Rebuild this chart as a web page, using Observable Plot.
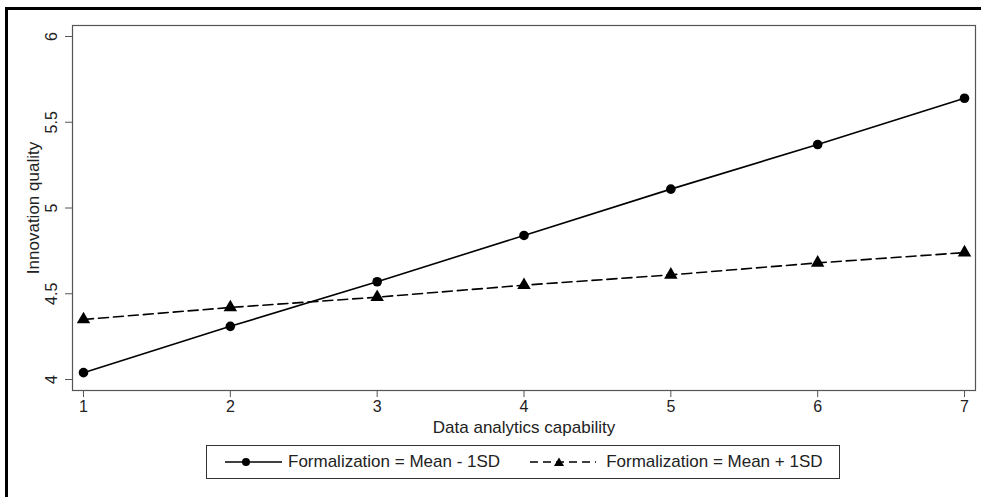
<!DOCTYPE html>
<html>
<head>
<meta charset="utf-8">
<script src="https://cdn.jsdelivr.net/npm/d3@7"></script>
<script src="https://cdn.jsdelivr.net/npm/@observablehq/plot@0.6"></script>
<style>
  html, body { margin: 0; padding: 0; background: #fff; }
  #wrap { position: relative; width: 981px; height: 497px; overflow: hidden; font-family: "Liberation Sans", Arial, sans-serif; }
  #border { position: absolute; left: 5px; top: 7px; width: 990px; height: 500px; border-top: 3px solid #000; border-left: 3px solid #000; box-sizing: border-box; }
  #chart { position: absolute; left: 0; top: 0; }
  #legend { position: absolute; left: 206px; top: 445px; width: 634px; height: 34px; border: 1px solid #333; box-sizing: border-box; display: flex; align-items: center; font-size: 17px; color: #222; white-space: nowrap; }
  #legend .item { display: flex; align-items: center; }
  #legend svg { display: block; }
</style>
</head>
<body>
<div id="wrap">
  <div id="chart"></div>
  <div id="border"></div>
  <div id="legend"></div>
</div>
<script>
const xValues = [1, 2, 3, 4, 5, 6, 7];
const lowFormalization = [4.04, 4.31, 4.57, 4.84, 5.11, 5.37, 5.64];
const highFormalization = [4.35, 4.42, 4.48, 4.55, 4.61, 4.68, 4.74];
const seriesNames = ["Formalization = Mean - 1SD", "Formalization = Mean + 1SD"];
const yTicks = [4, 4.5, 5, 5.5, 6];
const xTicks = [1, 2, 3, 4, 5, 6, 7];
const xTitle = "Data analytics capability";
const yTitle = "Innovation quality";

const low = xValues.map((x, i) => ({x, y: lowFormalization[i], s: seriesNames[0]}));
const high = xValues.map((x, i) => ({x, y: highFormalization[i], s: seriesNames[1]}));

const plot = Plot.plot({
  width: 981,
  height: 440,
  marginLeft: 72,
  marginRight: 6,
  marginTop: 25,
  marginBottom: 50,
  inset: 11,
  style: {fontFamily: "'Liberation Sans', Arial, sans-serif", fontSize: "16px", color: "#222", background: "transparent", overflow: "visible"},
  x: {domain: [1, 7]},
  y: {domain: [4, 6]},
  marks: [
    Plot.frame({stroke: "#555", strokeWidth: 1.2}),
    Plot.axisX({ticks: xTicks, tickSize: 7, tickPadding: 3, stroke: "#555", fill: "#222", fontSize: 16, label: null, tickFormat: d3.format("d")}),
    Plot.axisX({ticks: [], tickSize: 0, fill: "#222", fontSize: 17, label: xTitle, labelAnchor: "center", labelArrow: "none", labelOffset: 42}),
    Plot.axisY({ticks: yTicks, tickSize: 7, tickPadding: 9, stroke: "#555", fill: "#222", fontSize: 16, tickRotate: -90, label: null, tickFormat: d3.format("~g")}),
    Plot.axisY({ticks: [], tickSize: 0, fill: "#222", fontSize: 17, label: yTitle, labelAnchor: "center", labelArrow: "none", labelOffset: 46}),
    Plot.line(low, {x: "x", y: "y", stroke: "#000", strokeWidth: 1.6}),
    Plot.line(high, {x: "x", y: "y", stroke: "#000", strokeWidth: 1.6, strokeDasharray: "10,5"}),
    Plot.dot(low, {x: "x", y: "y", r: 4.8, fill: "#000", symbol: "circle"}),
    Plot.dot(high, {x: "x", y: "y", r: 5, fill: "#000", symbol: "triangle"})
  ]
});
document.getElementById("chart").appendChild(plot);

// legend
const legend = document.getElementById("legend");
const keys = [
  `<svg width="57" height="12"><line x1="0" y1="6" x2="57" y2="6" stroke="#000" stroke-width="1.6"/><circle cx="21" cy="6" r="4" fill="#000"/></svg>`,
  `<svg width="66" height="12"><line x1="0" y1="6" x2="66" y2="6" stroke="#000" stroke-width="1.6" stroke-dasharray="8,5"/><path d="M29,1.5 L34,10 L24,10 Z" fill="#000"/></svg>`
];
seriesNames.forEach((name, i) => {
  const item = document.createElement("div");
  item.className = "item";
  item.style.marginLeft = i === 0 ? "18px" : "30px";
  item.innerHTML = keys[i] + `<span style="margin-left:${i === 0 ? 6 : 10}px">${name}</span>`;
  legend.appendChild(item);
});
</script>
</body>
</html>
